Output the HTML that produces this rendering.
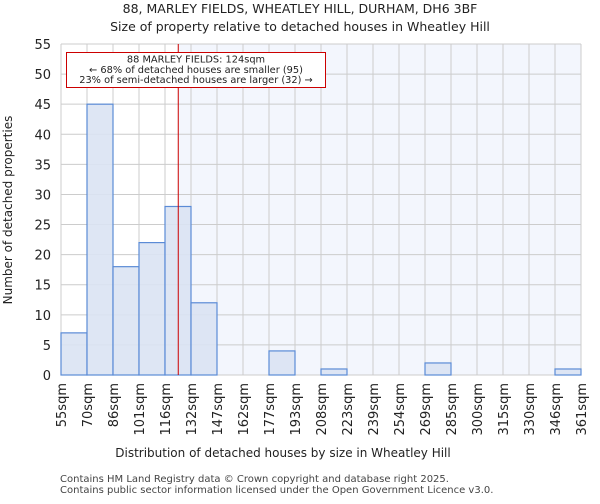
<!DOCTYPE html>
<html><head><meta charset="utf-8"><style>
body{margin:0;background:#fff;font-family:"DejaVu Sans","Liberation Sans",sans-serif;}
</style></head><body>
<svg id="c" width="600" height="500" xmlns="http://www.w3.org/2000/svg" font-family="DejaVu Sans, Liberation Sans, sans-serif">
<text x="300" y="13" text-anchor="middle" font-size="12.5" fill="#222">88, MARLEY FIELDS, WHEATLEY HILL, DURHAM, DH6 3BF</text>
<text x="300" y="31" text-anchor="middle" font-size="12.5" fill="#222">Size of property relative to detached houses in Wheatley Hill</text>
<g id="plot"></g>
<text x="283" y="457" text-anchor="middle" font-size="12" fill="#222">Distribution of detached houses by size in Wheatley Hill</text>
<text transform="translate(12,210) rotate(-90)" text-anchor="middle" font-size="12" fill="#222">Number of detached properties</text>
<text x="60" y="482" font-size="10" fill="#444">Contains HM Land Registry data © Crown copyright and database right 2025.</text>
<text x="60" y="493" font-size="10" fill="#444">Contains public sector information licensed under the Open Government Licence v3.0.</text>
</svg>
<script>
const binLabels=["55sqm","70sqm","86sqm","101sqm","116sqm","132sqm","147sqm","162sqm","177sqm","193sqm","208sqm","223sqm","239sqm","254sqm","269sqm","285sqm","300sqm","315sqm","330sqm","346sqm","361sqm"];
const counts=[7,45,18,22,28,12,0,0,4,0,1,0,0,0,2,0,0,0,0,1];
const yTicks=[0,5,10,15,20,25,30,35,40,45,50,55];
const marker=124;
const binEdges=[55,70.3,85.6,100.9,116.2,131.5,146.8,162.1,177.4,192.7,208,223.3,238.6,253.9,269.2,284.5,299.8,315.1,330.4,345.7,361];
const L=61,R=581,T=44,B=375,NS="http://www.w3.org/2000/svg";
const n=counts.length,bw=(R-L)/n;
const x=i=>L+i*bw, y=v=>B-(v/55)*(B-T);
const xv=v=>{for(let i=0;i<n;i++){if(v<=binEdges[i+1])return x(i)+(v-binEdges[i])/(binEdges[i+1]-binEdges[i])*bw;}return R;};
const g=document.getElementById('plot');
function mk(t,a){const e=document.createElementNS(NS,t);for(const k in a)e.setAttribute(k,a[k]);g.appendChild(e);return e;}
const mx=xv(marker);
let e=mk('rect',{x:mx,y:T,width:R-mx,height:B-T,fill:'#f3f6fd'});


for(const t of yTicks){e=mk('line',{x1:L,x2:R,y1:y(t),y2:y(t),stroke:'#ccc','stroke-width':1});


e=mk('text',{x:L-10,y:y(t)+5,'text-anchor':'end','font-size':13,fill:'#222'});e.textContent=t;

}
for(let i=0;i<=n;i++){e=mk('line',{x1:x(i),x2:x(i),y1:T,y2:B,stroke:'#ccc','stroke-width':1});


e=mk('text',{transform:`translate(${x(i)+5},${B+8}) rotate(-90)`,'text-anchor':'end','font-size':13,fill:'#222'});e.textContent=binLabels[i];

}
for(let i=0;i<n;i++){if(!counts[i])continue;
e=mk('rect',{x:x(i),y:y(counts[i]),width:bw,height:B-y(counts[i]),fill:'#dae3f3',stroke:'#5b8bd6','stroke-width':1.2,'fill-opacity':0.9});

}
e=mk('line',{x1:mx,x2:mx,y1:T,y2:B,stroke:'#c00','stroke-width':1});


e=mk('rect',{x:66.5,y:52.5,width:259,height:35,fill:'#fff',stroke:'#c00','stroke-width':1});


const ann=["88 MARLEY FIELDS: 124sqm","← 68% of detached houses are smaller (95)","23% of semi-detached houses are larger (32) →"];
ann.forEach((s,k)=>{e=mk('text',{x:196,y:62.5+k*10.3,'text-anchor':'middle','font-size':9.8,fill:'#222'});e.textContent=s;

});
</script>
</body></html>
